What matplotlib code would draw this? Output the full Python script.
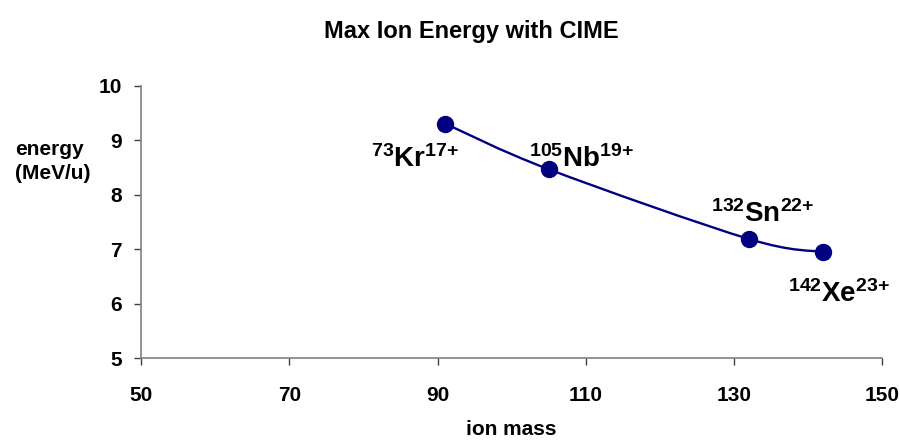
import matplotlib
matplotlib.use('Agg')
import matplotlib.pyplot as plt
from matplotlib.path import Path
from matplotlib.patches import PathPatch

plt.rcParams['font.family'] = ['Liberation Sans', 'DejaVu Sans']
plt.rcParams['font.weight'] = 'bold'
plt.rcParams['mathtext.fontset'] = 'custom'
plt.rcParams['mathtext.rm'] = 'Liberation Sans:bold'
plt.rcParams['mathtext.bf'] = 'Liberation Sans:bold'
plt.rcParams['mathtext.default'] = 'bf'

# data
ion_mass = [91, 105, 132, 142]
energy = [9.31, 8.47, 7.19, 6.95]
ion_labels = [r'$^{73}\mathrm{Kr}^{17{+}}$', r'$^{105}\mathrm{Nb}^{19{+}}$',
              r'$^{132}\mathrm{Sn}^{22{+}}$', r'$^{142}\mathrm{Xe}^{23{+}}$']
label_x = [87.0, 109.4, 133.9, 144.2]
label_y = [8.51, 8.51, 7.50, 6.03]

navy = '#000080'

fig = plt.figure(figsize=(9, 4.41), dpi=100)
ax = fig.add_axes([0.157, 0.188, 0.823, 0.617])

# smoothed line (Catmull-Rom style bezier like the spreadsheet "smoothed line")
verts = [(ion_mass[0], energy[0])]
codes = [Path.MOVETO]
n = len(ion_mass)
for i in range(n - 1):
    p0 = (ion_mass[max(i - 1, 0)], energy[max(i - 1, 0)])
    p1 = (ion_mass[i], energy[i])
    p2 = (ion_mass[i + 1], energy[i + 1])
    p3 = (ion_mass[min(i + 2, n - 1)], energy[min(i + 2, n - 1)])
    c1 = (p1[0] + (p2[0] - p0[0]) / 6, p1[1] + (p2[1] - p0[1]) / 6)
    c2 = (p2[0] - (p3[0] - p1[0]) / 6, p2[1] - (p3[1] - p1[1]) / 6)
    verts += [c1, c2, p2]
    codes += [Path.CURVE4] * 3
ax.add_patch(PathPatch(Path(verts, codes), facecolor='none', edgecolor=navy, lw=1.7, zorder=2))
ax.plot(ion_mass, energy, 'o', color=navy, markersize=11.5, zorder=3)

for lab, lx, ly in zip(ion_labels, label_x, label_y):
    ax.text(lx, ly, lab, fontsize=20, ha='center', va='baseline', color='black')

ax.set_xlim(50, 150)
ax.set_ylim(5, 10)
ax.set_xticks([50, 70, 90, 110, 130, 150])
ax.set_yticks([5, 6, 7, 8, 9, 10])
for s in ['top', 'right']:
    ax.spines[s].set_visible(False)
for s in ['left', 'bottom']:
    ax.spines[s].set_color('#808080')
    ax.spines[s].set_linewidth(1.2)
ax.tick_params(direction='out', length=5, width=1, color='#404040', labelsize=15)
ax.tick_params(axis='x', pad=15)
ax.tick_params(axis='y', pad=9)

fig.text(0.524, 0.913, 'Max Ion Energy with CIME', ha='center', va='baseline', fontsize=17)
fig.text(0.017, 0.6485, 'energy', ha='left', va='baseline', fontsize=15)
fig.text(0.017, 0.594, '(MeV/u)', ha='left', va='baseline', fontsize=15)
fig.text(0.568, 0.013, 'ion mass', ha='center', va='baseline', fontsize=15)

fig.savefig('out.png', dpi=100)
